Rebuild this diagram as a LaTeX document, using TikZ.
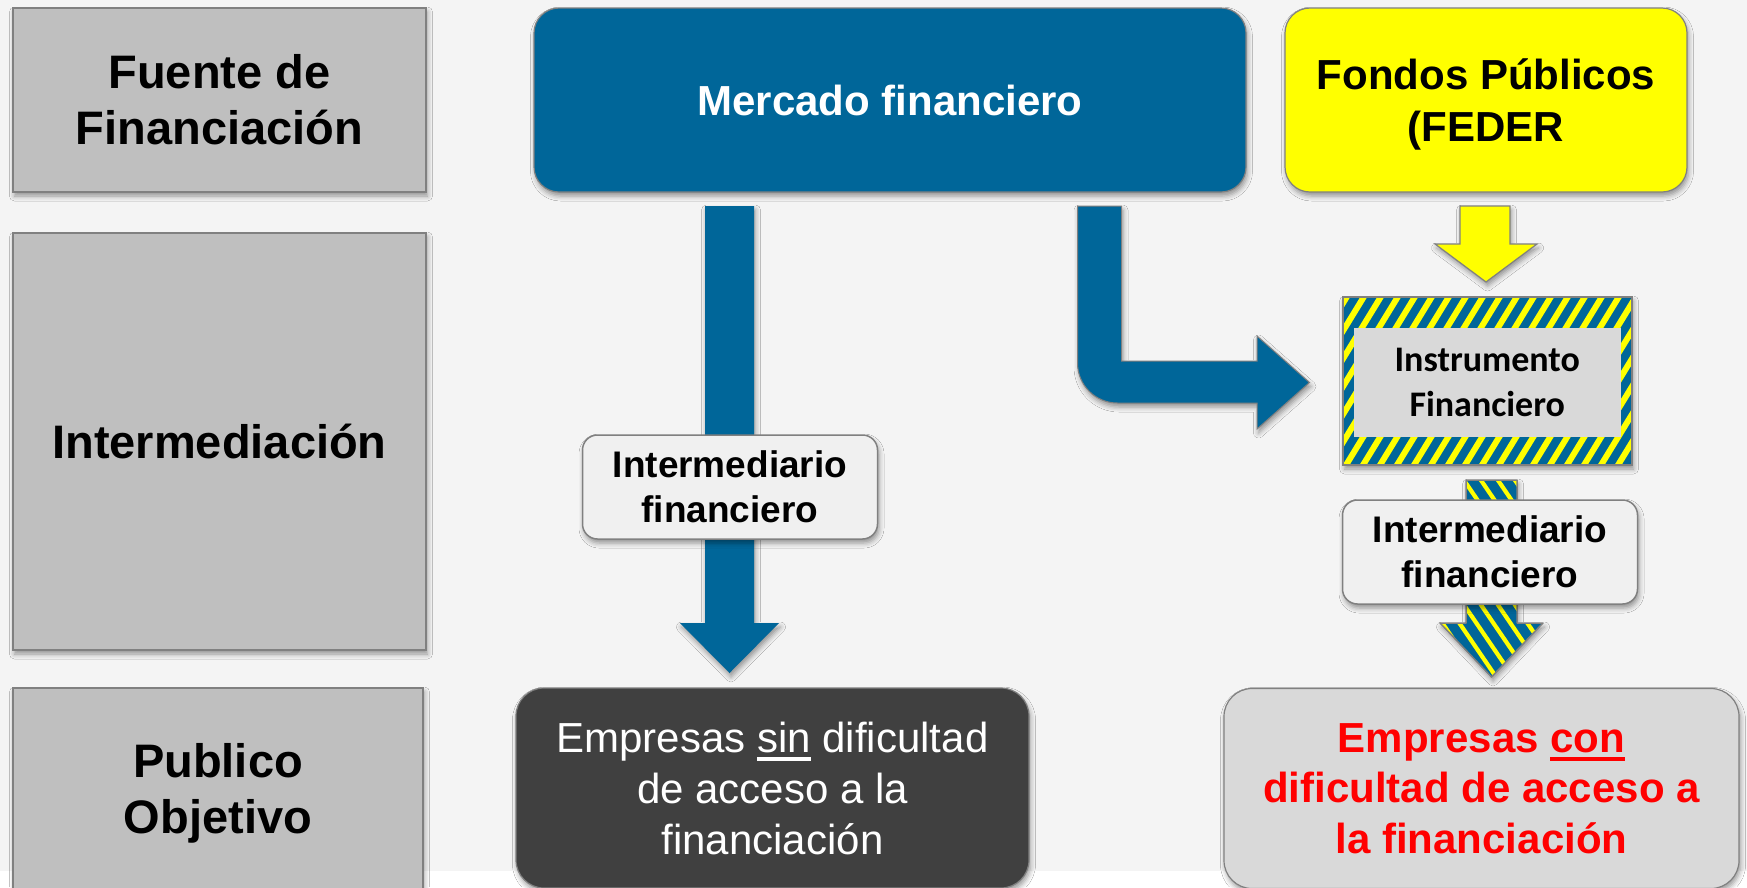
\documentclass[tikz,border=0pt]{standalone}
\usepackage{fontspec}
\setmainfont{Liberation Sans}
\newfontfamily\calib{Carlito}
\usetikzlibrary{shadows.blur}
\definecolor{bgg}{HTML}{F4F4F4}
\definecolor{fblue}{HTML}{006699}
\definecolor{fyel}{HTML}{FFFF00}
\definecolor{lbox}{HTML}{BFBFBF}
\definecolor{edgec}{HTML}{808080}
\definecolor{ibox}{HTML}{F0F0F0}
\definecolor{dbox}{HTML}{404040}
\definecolor{cbox}{HTML}{D9D9D9}
\definecolor{rtext}{HTML}{FF0000}
\newcommand\ulx[1]{\setbox0\hbox{#1}\rlap{\rule[-8.5pt]{\wd0}{3.5pt}}\box0\relax}
\begin{document}
\begin{tikzpicture}[x=1pt,y=-1pt,
  shd/.style={blur shadow={shadow xshift=1.5pt,shadow yshift=-4pt,shadow blur radius=5pt,shadow opacity=40}},
  rowbox/.style={draw=edgec,line width=1.5pt,fill=lbox,shd,inner sep=0pt,outer sep=0pt,align=center,
    font=\fontsize{47}{56}\selectfont\bfseries},
  topbox/.style={draw=edgec,line width=1.2pt,rounded corners=25pt,shd,inner sep=0pt,outer sep=0pt,align=center,
    font=\fontsize{42}{52.5}\selectfont\bfseries},
  midbox/.style={draw=edgec,line width=1.5pt,fill=ibox,rounded corners=15pt,shd,inner sep=0pt,outer sep=0pt,
    align=center,minimum width=295pt,minimum height=104pt,font=\fontsize{37}{45}\selectfont\bfseries},
  endbox/.style={draw=edgec,line width=1.2pt,rounded corners=28pt,shd,inner sep=0pt,outer sep=0pt,align=center,
    minimum height=200pt},
  blockarrow/.style={fill=fblue,shd},
  stripe/.style={draw=fyel,line width=4pt}
]
\useasboundingbox (0,0) rectangle (1747,887);
\fill[white] (0,0) rectangle (1747,887);
\fill[bgg] (0,0) rectangle (1747,871);

% left row labels
\node[rowbox,minimum width=413pt,minimum height=184pt] (fuente) at (219.5,100) {Fuente de\\Financiación};
\node[rowbox,minimum width=413pt,minimum height=417pt] (interm) at (219.5,441.5) {Intermediación};
\node[rowbox,minimum width=410pt,minimum height=210pt] (publico) at (218,793) {Publico\\Objetivo};

% left blue arrow
\fill[blockarrow] (705,206) -- (754,206) -- (754,623) -- (779,623) -- (729.5,673) -- (680,623) -- (705,623) -- cycle;

% bent blue arrow
\filldraw[blockarrow,draw=edgec,line width=1pt] (1121.5,206) -- (1121.5,361) -- (1257,361) -- (1257,336) -- (1309.5,382.5)
  -- (1257,429) -- (1257,403) -- (1117.5,403) .. controls (1095.4,403) and (1077.5,385.1) .. (1077.5,363)
  -- (1077.5,206) -- cycle;

% yellow arrow
\filldraw[fill=fyel,draw=edgec,line width=1.2pt,shd] (1460,206) -- (1510,206) -- (1510,244) -- (1537,244)
  -- (1486,282) -- (1435,244) -- (1460,244) -- cycle;

% striped arrow (instrument -> empresas)
\fill[fblue,shd] (1466,480) -- (1517,480) -- (1517,623) -- (1543,623) -- (1491.5,677) -- (1440,623) -- (1466,623) -- cycle;
\begin{scope}
  \clip (1466,480) -- (1517,480) -- (1517,623) -- (1543,623) -- (1491.5,677) -- (1440,623) -- (1466,623) -- cycle;
  \foreach \k in {-12,...,8} \draw[stripe,line width=4.2pt] ({1440+17*\k},470) -- ++(150,220);
\end{scope}
\draw[edgec,line width=1.5pt,line join=round] (1466,480) -- (1517,480) -- (1517,623) -- (1543,623) -- (1491.5,677) -- (1440,623) -- (1466,623) -- cycle;

% top boxes
\node[topbox,fill=fblue,text=white,minimum width=712pt,minimum height=184pt] (merc) at (890,100) {Mercado financiero};
\node[topbox,fill=fyel,minimum width=402pt,minimum height=184pt,text depth=0pt] (fondos) at (1486,100) {Fondos Públicos\\(FEDER};

% instrumento financiero (striped frame)
\node[draw=edgec,line width=1.5pt,fill=fblue,shd,minimum width=289pt,minimum height=168pt,inner sep=0pt,outer sep=0pt] (instrframe) at (1487.5,381) {};
\begin{scope}
  \clip (instrframe.north west) rectangle (instrframe.south east);
  \foreach \k in {-9,...,19} \draw[stripe,line width=6pt] ({1343+17*\k},470) -- ++(110,-180);
\end{scope}
\draw[edgec,line width=1.5pt] (instrframe.north west) rectangle (instrframe.south east);
\node[fill=cbox,minimum width=267pt,minimum height=109pt,inner sep=0pt,align=center,
  font=\fontsize{36}{45}\selectfont\calib\bfseries] (instr) at (1487.25,382.5) {Instrumento\\Financiero};

% intermediaries
\node[midbox] (int1) at (730,487) {Intermediario\\financiero};
\node[midbox] (int2) at (1490,552) {Intermediario\\financiero};

% target boxes
\node[endbox,fill=dbox,text=white,minimum width=513pt,font=\fontsize{42}{51}\selectfont] (sin) at (772.5,788)
  {Empresas \ulx{sin} dificultad\\de acceso a la\\financiación};
\node[endbox,fill=cbox,text=rtext,minimum width=515pt,font=\fontsize{42}{50.5}\selectfont\bfseries] (con) at (1481.5,788.5)
  {Empresas \ulx{con}\\dificultad de acceso a\\la financiación};
\end{tikzpicture}
\end{document}
